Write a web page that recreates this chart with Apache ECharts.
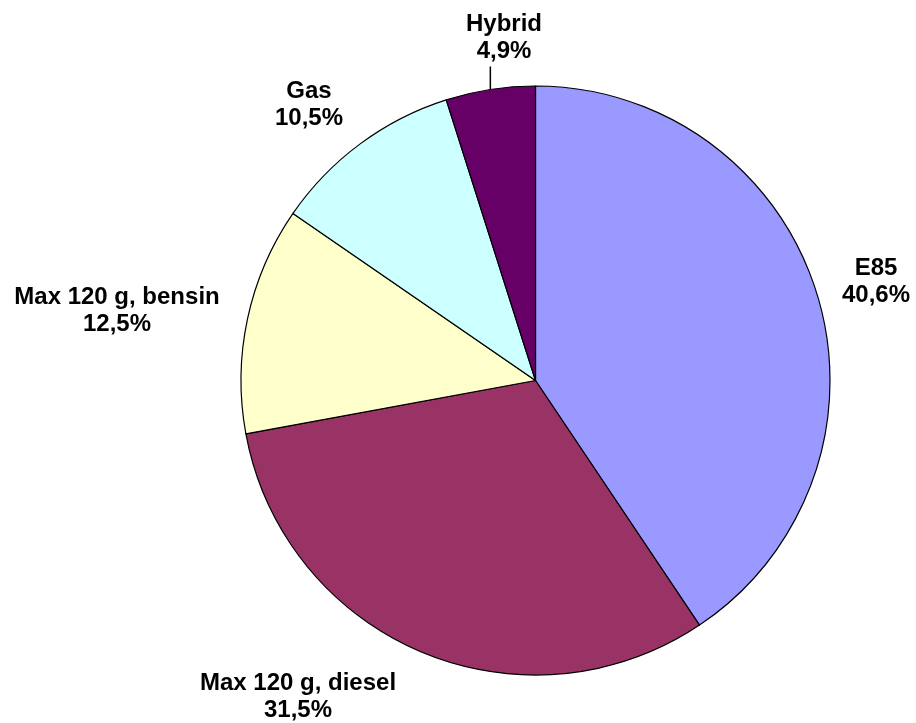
<!DOCTYPE html>
<html>
<head>
<meta charset="utf-8">
<script src="https://cdn.jsdelivr.net/npm/echarts@6/dist/echarts.min.js"></script>
<style>
html,body{margin:0;padding:0;background:#fff;}
#main{width:916px;height:723px;}
</style>
</head>
<body>
<div id="main"></div>
<script>
var categories = ['E85', 'Max 120 g, diesel', 'Max 120 g, bensin', 'Gas', 'Hybrid'];
var values = [40.6, 31.5, 12.5, 10.5, 4.9];
var colors = ['#9999FF', '#993366', '#FFFFCC', '#CCFFFF', '#660066'];
// label box centres (layout only)
var labelCenters = [[876, 282], [298, 697], [117, 311], [309, 105], [504, 38]];
var CX = 535.5, CY = 380.5, R = 294.5;

var chart = echarts.init(document.getElementById('main'), null, {renderer: 'canvas'});
var data = categories.map(function (c, i) {
  return {name: c, value: values[i], itemStyle: {color: colors[i]}};
});

// leader line for the Hybrid slice: from the middle of its arc straight up
var total = values.reduce(function (a, b) { return a + b; }, 0);
var hIdx = categories.indexOf('Hybrid');
var before = 0;
for (var i = 0; i < hIdx; i++) before += values[i];
var midFrac = (before + values[hIdx] / 2) / total;
var ang = midFrac * 2 * Math.PI; // clockwise from top
var ex = CX + R * Math.sin(ang), ey = CY - R * Math.cos(ang);

chart.setOption({
  backgroundColor: '#fff',
  animation: false,
  graphic: [{
    type: 'line',
    shape: {x1: ex, y1: ey, x2: ex, y2: ey - 23},
    style: {stroke: '#000', lineWidth: 1.5},
    z: 10
  }],
  series: [{
    type: 'pie',
    center: [CX, CY],
    radius: [0, R],
    startAngle: 90,
    clockwise: true,
    avoidLabelOverlap: false,
    data: data,
    itemStyle: {borderColor: '#000', borderWidth: 1.2},
    emphasis: {disabled: true},
    label: {
      show: true,
      position: 'outside',
      fontFamily: 'Liberation Sans, Arial, sans-serif',
      fontWeight: 'bold',
      fontSize: 24,
      lineHeight: 27,
      color: '#000',
      align: 'center',
      formatter: function (p) {
        return p.name + '\n' + p.value.toFixed(1).replace('.', ',') + '%';
      }
    },
    labelLine: {show: false},
    labelLayout: function (p) {
      var c = labelCenters[p.dataIndex];
      return {x: c[0], y: c[1], align: 'center', verticalAlign: 'middle'};
    }
  }]
});
</script>
</body>
</html>
